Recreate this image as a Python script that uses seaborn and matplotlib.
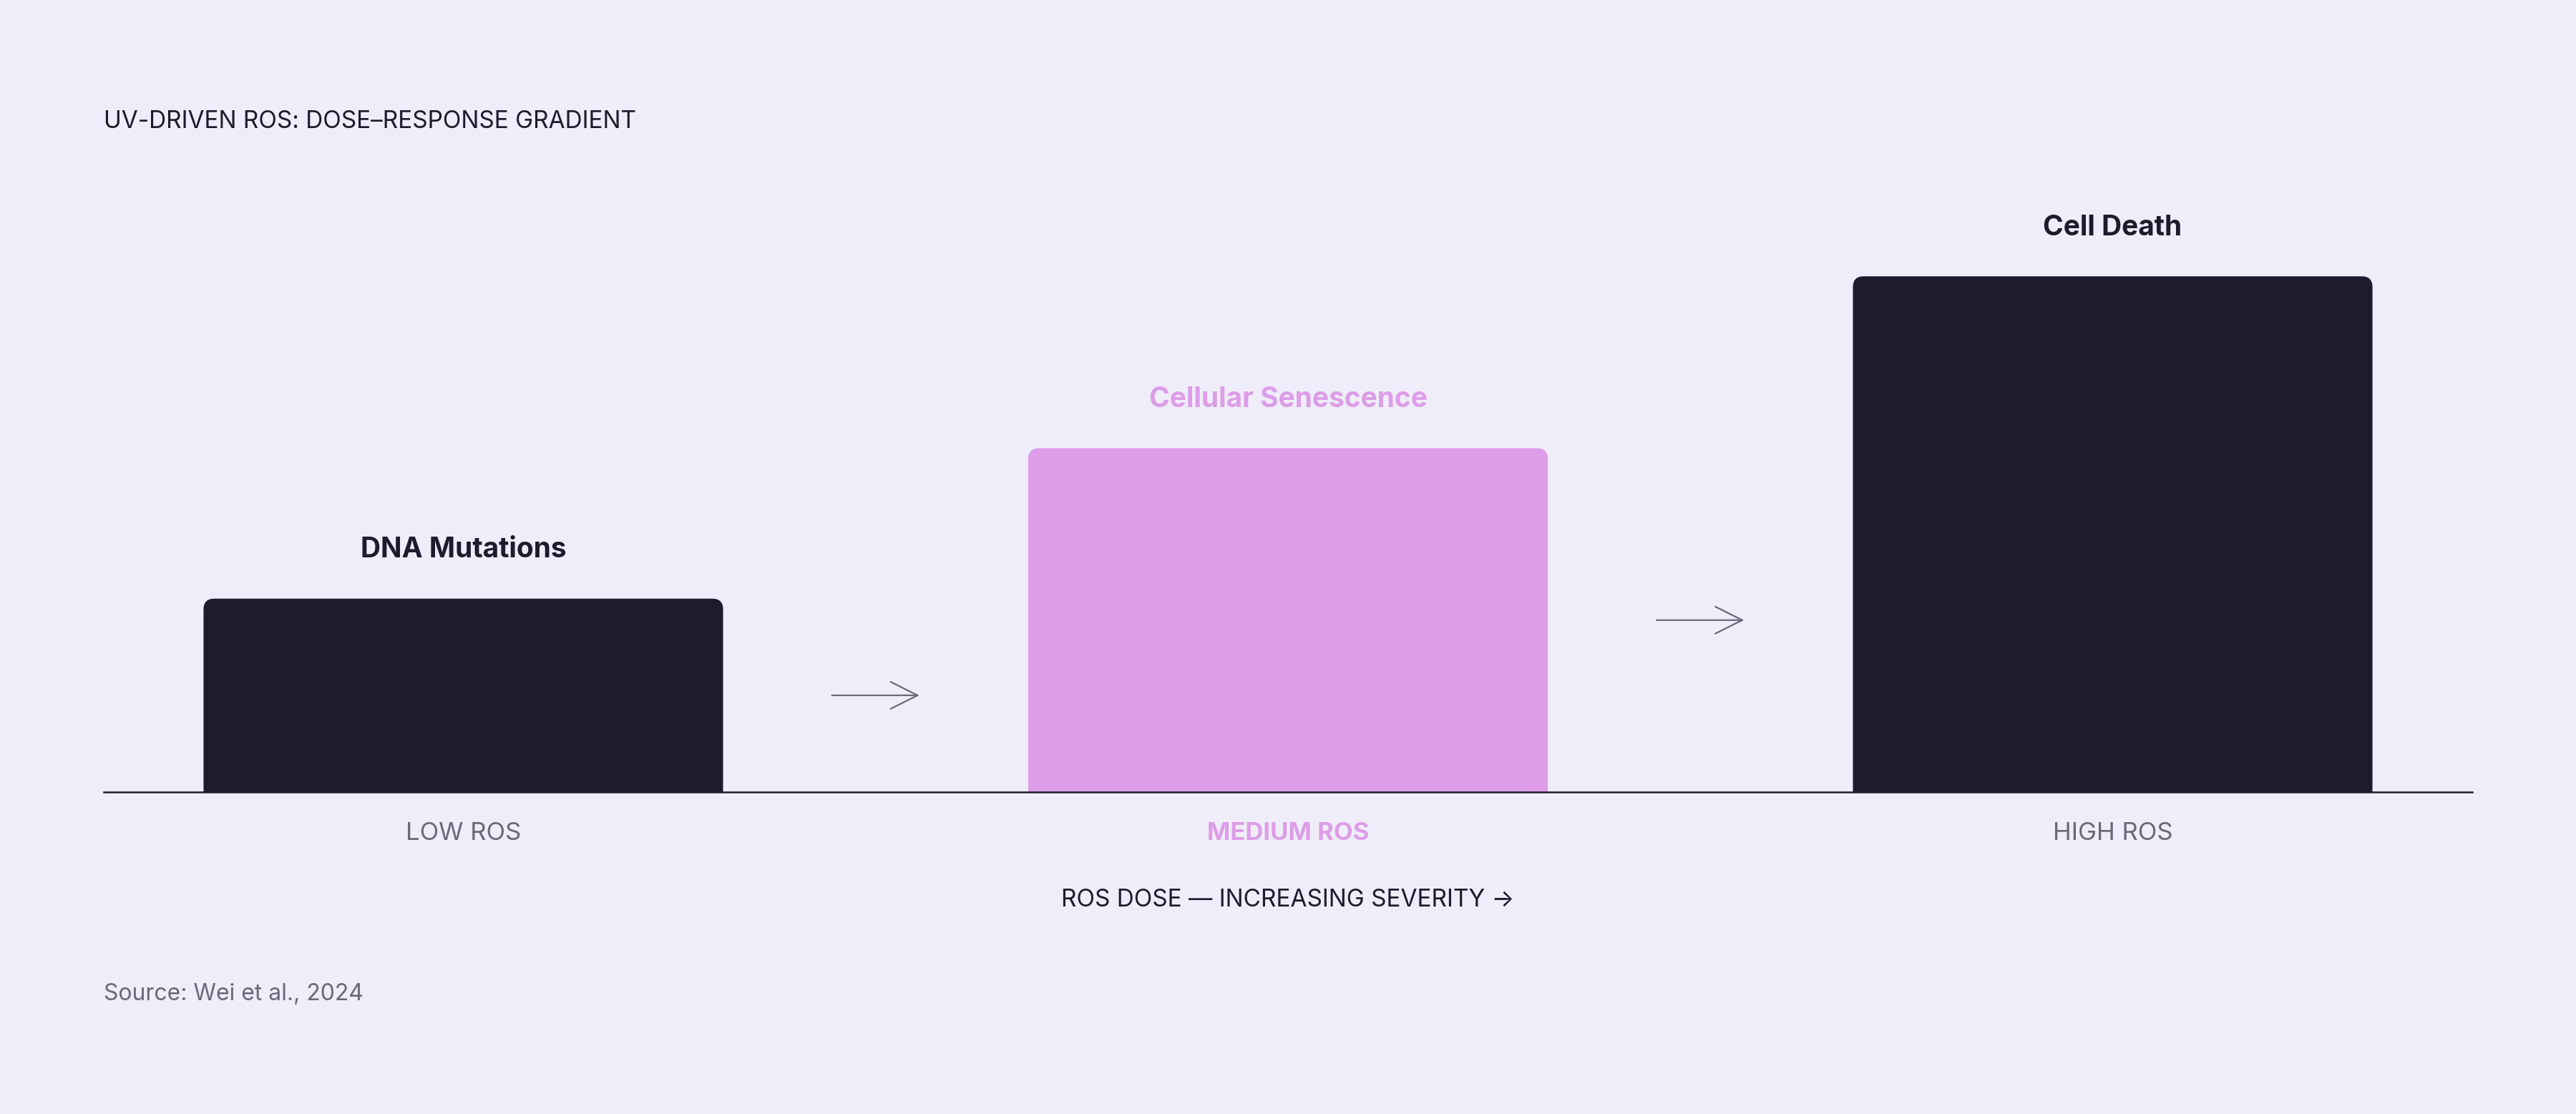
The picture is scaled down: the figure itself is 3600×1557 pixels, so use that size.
import matplotlib
matplotlib.use("Agg")
import matplotlib.pyplot as plt
from matplotlib.patches import PathPatch
from matplotlib.path import Path
import seaborn as sns
import pandas as pd

# Data
categories = ["LOW ROS", "MEDIUM ROS", "HIGH ROS"]
outcomes = ["DNA Mutations", "Cellular Senescence", "Cell Death"]
ros_levels = [36, 64, 96]

title = "UV-DRIVEN ROS: DOSE\u2013RESPONSE GRADIENT"
x_label = "ROS DOSE \u2014 INCREASING SEVERITY \u2192"
source = "Source: Wei et al., 2024"

# Colours
bg = "#efedf9"
dark = "#1e1b2e"
pink = "#dd9de8"
grey = "#6b6878"
bar_colors = [dark, pink, dark]
label_colors = [grey, pink, grey]
outcome_colors = [dark, pink, dark]

df = pd.DataFrame({"level": categories, "ros": ros_levels, "outcome": outcomes})

sns.set_theme(style="white")
plt.rcParams["font.family"] = ["Inter", "DejaVu Sans"]

W, H, DPI = 3600, 1557, 200
fig = plt.figure(figsize=(W / DPI, H / DPI), dpi=DPI, facecolor=bg)
ax = fig.add_axes([145 / W, (H - 1107) / H, 3310 / W, 901 / H])
ax.set_facecolor(bg)

sns.barplot(data=df, x="level", y="ros", hue="level", palette=bar_colors,
            width=0.63, legend=False, saturation=1, ax=ax)

ax.set_xlim(-0.436, 2.436)
ax.set_ylim(0, 120)


def top_rounded(x0, w, h, rx, ry):
    x1 = x0 + w
    verts = [(x0, 0), (x0, h - ry), (x0, h), (x0 + rx, h), (x1 - rx, h),
             (x1, h), (x1, h - ry), (x1, 0), (x0, 0)]
    codes = [Path.MOVETO, Path.LINETO, Path.CURVE3, Path.CURVE3, Path.LINETO,
             Path.CURVE3, Path.CURVE3, Path.LINETO, Path.CLOSEPOLY]
    return Path(verts, codes)


# swap square bars for ones with rounded top corners (~15 px radius)
pos = ax.get_position()
rx = 15 * (2.872 / (pos.width * W))
ry = 15 * (120 / (pos.height * H))
for p in list(ax.patches):
    x0, w, h = p.get_x(), p.get_width(), p.get_height()
    c = p.get_facecolor()
    p.remove()
    ax.add_patch(PathPatch(top_rounded(x0, w, h, rx, ry), fc=c, ec="none", zorder=2))

# outcome labels above bars
for i, (v, txt) in enumerate(zip(ros_levels, outcomes)):
    ax.annotate(txt, xy=(i, v), xytext=(0, 24.5), textcoords="offset points",
                ha="center", va="center", fontsize=14, fontweight="bold",
                color=outcome_colors[i])

# arrows between bars
for i in range(len(ros_levels) - 1):
    y = ros_levels[i] / 2
    ax.annotate("", xy=(i + 0.553, y), xytext=(i + 0.447, y),
                arrowprops=dict(arrowstyle="->,head_length=0.68,head_width=0.34",
                                color=grey, lw=0.8, shrinkA=0, shrinkB=0,
                                mutation_scale=20))

# axes styling
sns.despine(ax=ax, left=True)
ax.spines["bottom"].set_color(dark)
ax.spines["bottom"].set_linewidth(0.9)
ax.spines["bottom"].set_zorder(3)
ax.set_yticks([])
ax.set_ylabel("")
ax.tick_params(axis="x", length=0, pad=15)
ax.set_xticks(range(len(categories)))
ax.set_xticklabels(categories, fontsize=12.5)
for tl, col, cat in zip(ax.get_xticklabels(), label_colors, categories):
    tl.set_color(col)
    if cat == "MEDIUM ROS":
        tl.set_fontweight("bold")
ax.set_xlabel(x_label, fontsize=12, color=dark, labelpad=22)

fig.text(145 / W, 1 - 170 / H, title, fontsize=12, color=dark, va="center", ha="left")
fig.text(145 / W, 1 - 1389 / H, source, fontsize=11.5, color=grey, va="center", ha="left")

fig.savefig("out.png", dpi=DPI, facecolor=bg)
